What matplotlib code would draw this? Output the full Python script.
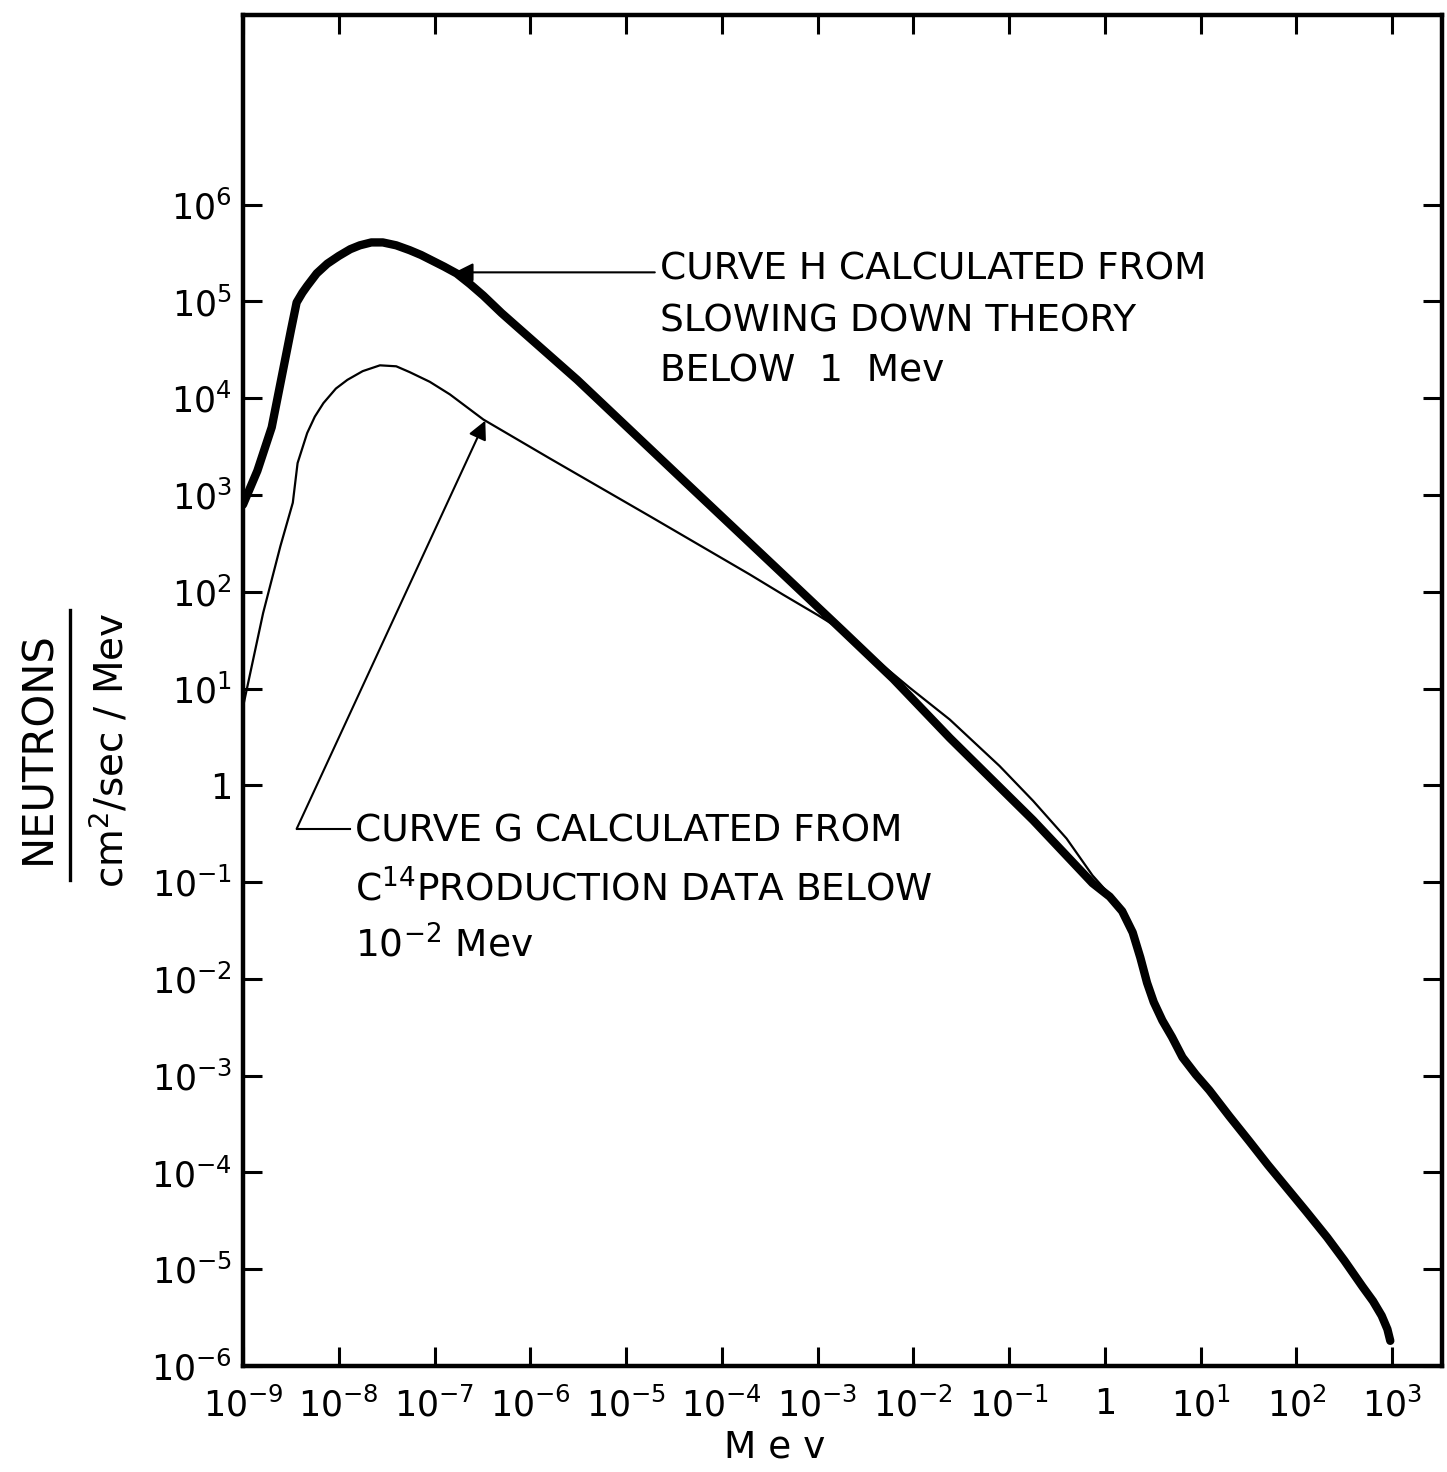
#!/usr/bin/env python3
"""Neutron flux spectrum, curves H and G, log-log."""

import matplotlib

matplotlib.use("Agg")
import matplotlib.pyplot as plt
import numpy as np
from matplotlib.lines import Line2D
from matplotlib.ticker import FixedFormatter, FixedLocator, NullLocator

# values, as log10(Mev) and log10(neutrons / cm2 / sec / Mev)
h_log_energy = [
    -9.00, -8.85, -8.70, -8.60, -8.50, -8.44, -8.38, -8.33, -8.23, -8.12,
    -8.00, -7.88, -7.78, -7.66, -7.54, -7.40, -7.26, -7.14, -7.02, -6.90,
    -6.77, -6.63, -6.49, -6.30, -6.14, -5.51, -4.41, -3.36, -2.74, -2.21,
    -1.62, -0.75, -0.13, 0.05, 0.18, 0.29, 0.37, 0.44, 0.51, 0.60,
    0.70, 0.81, 0.95, 1.09, 1.30, 1.51, 1.70, 1.90, 2.10, 2.32,
    2.50, 2.69, 2.80, 2.89, 2.95, 2.98,
]
h_log_flux = [
    2.90, 3.25, 3.70, 4.20, 4.70, 4.99, 5.09, 5.16, 5.29, 5.39,
    5.47, 5.54, 5.58, 5.61, 5.61, 5.58, 5.53, 5.48, 5.42, 5.36,
    5.29, 5.18, 5.06, 4.88, 4.74, 4.19, 3.16, 2.18, 1.60, 1.10,
    0.49, -0.36, -1.01, -1.15, -1.30, -1.52, -1.78, -2.04, -2.24, -2.43,
    -2.60, -2.81, -2.99, -3.15, -3.42, -3.68, -3.92, -4.16, -4.40, -4.67,
    -4.91, -5.18, -5.33, -5.48, -5.62, -5.74,
]

g_log_energy = [
    -9.00, -8.79, -8.61, -8.48, -8.43, -8.33, -8.25, -8.16, -8.03, -7.91,
    -7.75, -7.57, -7.40, -7.26, -7.05, -6.84, -6.49, -5.80, -4.75, -3.71,
    -3.36, -3.00, -2.74, -2.38, -2.04, -1.62, -1.10, -0.75, -0.40, -0.13,
    0.05,
]
g_log_flux = [
    0.81, 1.78, 2.47, 2.92, 3.33, 3.64, 3.81, 3.95, 4.10, 4.19,
    4.28, 4.34, 4.33, 4.27, 4.17, 4.04, 3.78, 3.38, 2.78, 2.18,
    1.97, 1.76, 1.60, 1.29, 1.01, 0.68, 0.20, -0.16, -0.55, -0.93,
    -1.13,
]

x_ticks = [1e-9, 1e-8, 1e-7, 1e-6, 1e-5, 1e-4, 1e-3, 1e-2, 1e-1, 1, 1e1, 1e2, 1e3]
x_tick_labels = [
    "$10^{-9}$", "$10^{-8}$", "$10^{-7}$", "$10^{-6}$", "$10^{-5}$", "$10^{-4}$",
    "$10^{-3}$", "$10^{-2}$", "$10^{-1}$", "1", "$10^{1}$", "$10^{2}$", "$10^{3}$",
]
y_ticks = [1e-6, 1e-5, 1e-4, 1e-3, 1e-2, 1e-1, 1, 1e1, 1e2, 1e3, 1e4, 1e5, 1e6]
y_tick_labels = [
    "$10^{-6}$", "$10^{-5}$", "$10^{-4}$", "$10^{-3}$", "$10^{-2}$", "$10^{-1}$",
    "1", "$10^{1}$", "$10^{2}$", "$10^{3}$", "$10^{4}$", "$10^{5}$", "$10^{6}$",
]

h_note = ["CURVE H CALCULATED FROM", "SLOWING DOWN THEORY", "BELOW  1  Mev"]
g_note = ["CURVE G CALCULATED FROM", "C$^{14}$PRODUCTION DATA BELOW", "10$^{-2}$ Mev"]

W, H = 1447, 1472


def fx(px):
    return px / W


def fy(py):
    return 1 - py / H


def main():
    plt.rcParams["font.family"] = ["DejaVu Sans"]
    plt.rcParams["mathtext.fontset"] = "dejavusans"

    fig = plt.figure(figsize=(W / 100, H / 100), dpi=100)
    ax = fig.add_axes([fx(243), fy(1366), fx(1442) - fx(243), fy(15) - fy(1366)])

    he = np.power(10.0, h_log_energy)
    hf = np.power(10.0, h_log_flux)
    ge = np.power(10.0, g_log_energy)
    gf = np.power(10.0, g_log_flux)

    ax.plot(ge, gf, color="black", lw=1.6, solid_joinstyle="round")
    ax.plot(he, hf, color="black", lw=6.0, solid_capstyle="round", solid_joinstyle="round")

    ax.set_xscale("log")
    ax.set_yscale("log")
    ax.set_xlim(1e-9, 10 ** 3.52)
    ax.set_ylim(1e-6, 10 ** 7.96)

    ax.xaxis.set_major_locator(FixedLocator(x_ticks))
    ax.xaxis.set_major_formatter(FixedFormatter(x_tick_labels))
    ax.yaxis.set_major_locator(FixedLocator(y_ticks))
    ax.yaxis.set_major_formatter(FixedFormatter(y_tick_labels))
    ax.xaxis.set_minor_locator(NullLocator())
    ax.yaxis.set_minor_locator(NullLocator())
    ax.tick_params(which="major", direction="in", length=14, width=2.2,
                   top=True, right=True, labelsize=25)
    ax.tick_params(axis="x", pad=15)
    ax.tick_params(axis="y", pad=8)
    for sp in ax.spines.values():
        sp.set_linewidth(3.2)

    # curve H label with arrow pointing left onto the curve
    tip_x = -6.79
    tip_y = np.interp(tip_x, h_log_energy, h_log_flux)
    ax.annotate(
        "", xy=(10 ** tip_x, 10 ** tip_y), xytext=(10 ** -4.70, 10 ** tip_y),
        arrowprops=dict(arrowstyle="-|>", color="black", lw=1.5, mutation_scale=28,
                        shrinkA=0, shrinkB=0),
    )
    for i, line in enumerate(h_note):
        fig.text(fx(660), fy(270 + 51 * i), line, fontsize=27, ha="left", va="center")

    # curve G label: short horizontal leader, then arrow up to the curve
    g_tip_x = -6.47
    g_tip_y = np.interp(g_tip_x, g_log_energy, g_log_flux)
    kink = (10 ** -8.44, 10 ** -0.45)
    ax.plot([kink[0], 10 ** -7.88], [kink[1], kink[1]], color="black", lw=1.5)
    ax.annotate(
        "", xy=(10 ** g_tip_x, 10 ** g_tip_y), xytext=kink,
        arrowprops=dict(arrowstyle="-|>", color="black", lw=1.5, mutation_scale=28,
                        shrinkA=0, shrinkB=0),
    )
    for i, line in enumerate(g_note):
        fig.text(fx(355), fy(832 + 57 * i), line, fontsize=27, ha="left", va="center")

    fig.text(fx(775), fy(1447), "M e v", fontsize=27, ha="center", va="center")
    fig.text(fx(38), fy(748), "NEUTRONS", fontsize=30, rotation=90,
             ha="center", va="center")
    fig.add_artist(Line2D([fx(70), fx(70)], [fy(880), fy(610)], color="black", lw=2.4,
                          transform=fig.transFigure))
    fig.text(fx(110), fy(750), "cm$^2$/sec / Mev", fontsize=28, rotation=90,
             ha="center", va="center")

    fig.savefig("out.png", dpi=100)
    plt.close(fig)


if __name__ == "__main__":
    main()
